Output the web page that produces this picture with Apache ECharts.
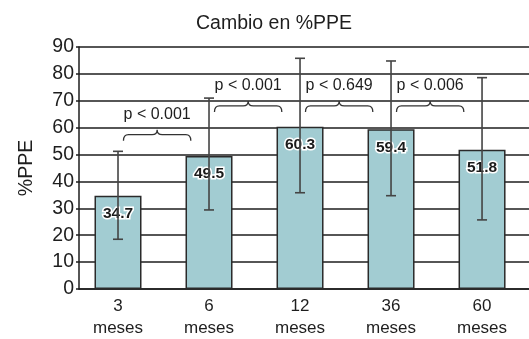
<!DOCTYPE html>
<html>
<head>
<meta charset="utf-8">
<script src="https://cdn.jsdelivr.net/npm/echarts@6/dist/echarts.min.js"></script>
<style>
html,body{margin:0;padding:0;background:#fff;}
#chart{width:529px;height:339px;}
</style>
</head>
<body>
<div id="chart"></div>
<script>
// ---- data ----
var categories = ['3', '6', '12', '36', '60'];
var unitLabel = 'meses';
var meanValues = [34.7, 49.5, 60.3, 59.4, 51.8];
var errorHigh = [51.2, 71.0, 85.8, 84.8, 78.6];
var errorLow = [18.5, 29.4, 35.8, 34.7, 25.7];
var pFrom = [0, 1, 2, 3];
var pTo = [1, 2, 3, 4];
var pTexts = ['p < 0.001', 'p < 0.001', 'p < 0.649', 'p < 0.006'];
var pLevels = [57.4, 68.1, 68.1, 68.1];
var yTicks = [0, 10, 20, 30, 40, 50, 60, 70, 80, 90];
var titleText = 'Cambio en %PPE';
var yName = '%PPE';

var FONT = "'Liberation Sans', Arial, sans-serif";
var INK = '#1e1e1e';

var barData = meanValues.map(function (v, i) { return [i, v]; });
var errData = meanValues.map(function (v, i) { return [i, errorLow[i], errorHigh[i]]; });
var braceData = pTexts.map(function (t, i) { return [pFrom[i], pTo[i], pLevels[i], i]; });

var chart = echarts.init(document.getElementById('chart'), null, {renderer: 'canvas'});

var option = {
  backgroundColor: '#fff',
  animation: false,
  graphic: [{
    type: 'text',
    x: 274,
    y: 23.5,
    style: {
      text: titleText, align: 'center', verticalAlign: 'middle',
      fontFamily: FONT, fontSize: 19.5, fill: INK
    }
  }],
  grid: {left: 79, right: 0, top: 47, bottom: 49, containLabel: false},
  xAxis: {
    type: 'value',
    min: -0.4286,
    max: 4.516,
    axisLine: {show: true, onZero: false, lineStyle: {color: INK, width: 1.5}},
    axisTick: {show: false},
    splitLine: {show: false},
    axisLabel: {
      customValues: [0, 1, 2, 3, 4],
      formatter: function (v) { return categories[Math.round(v)] + '\n' + unitLabel; },
      fontFamily: FONT, fontSize: 17, lineHeight: 22, color: INK, margin: 6
    }
  },
  yAxis: {
    type: 'value',
    min: yTicks[0],
    max: yTicks[yTicks.length - 1],
    interval: 10,
    name: yName,
    nameLocation: 'middle',
    nameRotate: 90,
    nameGap: 42,
    nameTextStyle: {fontFamily: FONT, fontSize: 19.5, color: INK},
    axisLine: {show: true, onZero: false, lineStyle: {color: INK, width: 1.5}},
    axisTick: {show: true, length: 3, lineStyle: {color: INK, width: 1.5}},
    splitLine: {show: true, lineStyle: {color: INK, width: 1.5}},
    axisLabel: {fontFamily: FONT, fontSize: 19.5, color: INK, margin: 5}
  },
  series: [
    {
      type: 'bar',
      data: barData,
      barWidth: 47,
      itemStyle: {color: '#a2ccd2', borderColor: '#2a2a2a', borderWidth: 1.5},
      label: {
        show: true,
        position: 'insideTop',
        distance: 10,
        formatter: function (p) { return p.value[1].toFixed(1); },
        fontFamily: FONT, fontSize: 15.5, fontWeight: 'bold', color: '#1a1a1a',
        textBorderColor: '#fff', textBorderWidth: 3
      },
      z: 2
    },
    {
      type: 'custom',
      data: errData,
      z: 3,
      renderItem: function (params, api) {
        var x = api.value(0);
        var lo = api.coord([x, api.value(1)]);
        var hi = api.coord([x, api.value(2)]);
        var cap = 5;
        var st = {stroke: '#444', lineWidth: 1.6};
        return {
          type: 'group',
          children: [
            {type: 'line', shape: {x1: lo[0], y1: lo[1], x2: hi[0], y2: hi[1]}, style: st},
            {type: 'line', shape: {x1: hi[0] - cap, y1: hi[1], x2: hi[0] + cap, y2: hi[1]}, style: st},
            {type: 'line', shape: {x1: lo[0] - cap, y1: lo[1], x2: lo[0] + cap, y2: lo[1]}, style: st}
          ]
        };
      }
    },
    {
      type: 'custom',
      data: braceData,
      z: 4,
      renderItem: function (params, api) {
        var a = api.coord([api.value(0), api.value(2)]);
        var b = api.coord([api.value(1), api.value(2)]);
        var band = b[0] - a[0];
        var x1 = a[0] + band * 0.06;
        var x2 = b[0] - band * 0.2;
        var y = a[1];
        var xm = (x1 + x2) / 2;
        var d = 'M' + x1 + ' ' + (y + 6) + ' Q' + x1 + ' ' + y + ' ' + (x1 + 5) + ' ' + y +
          ' L' + (xm - 5) + ' ' + y + ' Q' + xm + ' ' + y + ' ' + xm + ' ' + (y - 5) +
          ' Q' + xm + ' ' + y + ' ' + (xm + 5) + ' ' + y +
          ' L' + (x2 - 5) + ' ' + y + ' Q' + x2 + ' ' + y + ' ' + x2 + ' ' + (y + 6);
        return {
          type: 'group',
          children: [
            {type: 'path', shape: {pathData: d}, style: {fill: null, stroke: '#333', lineWidth: 1.3}},
            {type: 'text', style: {
              text: pTexts[api.value(3)], x: xm, y: y - 20,
              align: 'center', verticalAlign: 'middle',
              fontFamily: FONT, fontSize: 16, fill: INK,
              backgroundColor: '#fff', padding: [0, 1]
            }}
          ]
        };
      }
    }
  ]
};
chart.setOption(option);
</script>
</body>
</html>
